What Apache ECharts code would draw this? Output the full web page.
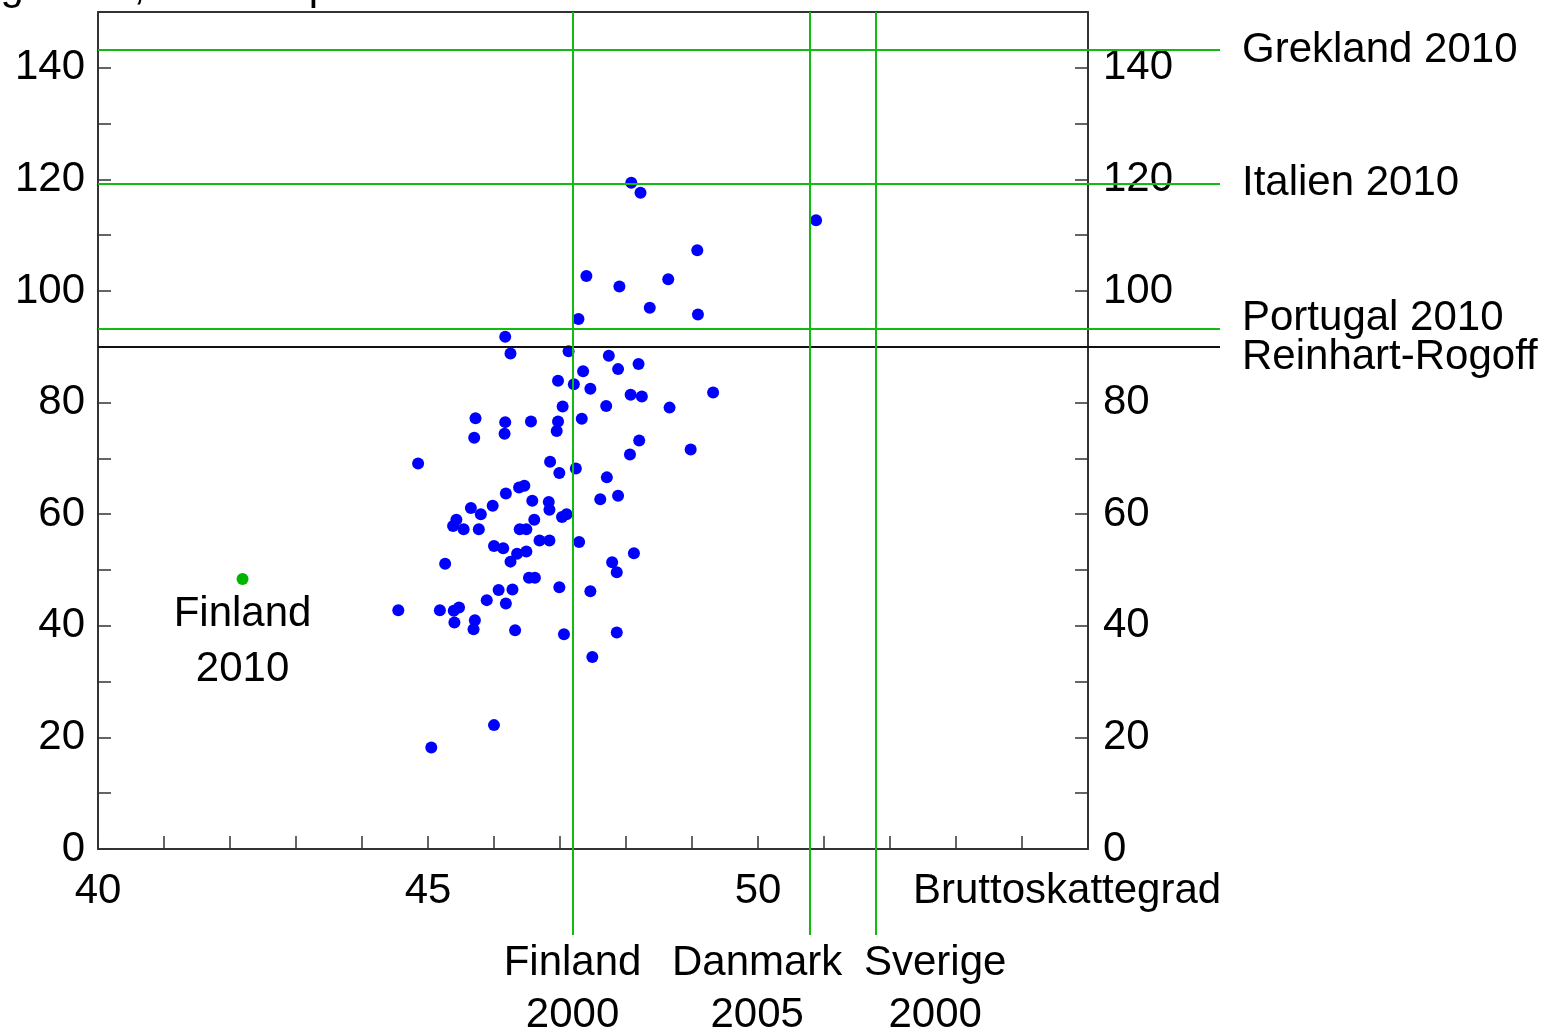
<!DOCTYPE html>
<html>
<head>
<meta charset="utf-8">
<script src="https://cdn.jsdelivr.net/npm/echarts@6/dist/echarts.min.js"></script>
<style>
    body { margin: 0; background: #fff; }
    #chart { width: 1548px; height: 1034px; }
</style>
</head>
<body>
<div id="chart"></div>
<script>
// bruttoskattegrad (x) och offentlig skuld (y) per land och år
const taxRate = [48.08, 48.22, 50.88, 49.08, 47.40, 47.90, 48.64, 48.36, 49.09, 47.28,
    46.17, 46.25, 47.13, 47.74, 48.19, 47.88, 47.35, 46.97, 47.21, 47.46,
    48.07, 48.24, 49.32, 48.66, 47.04, 47.70, 45.72, 46.17, 46.56, 46.97,
    47.33, 46.95, 45.70, 46.16, 48.20, 48.06, 48.98, 44.85, 46.85, 46.99,
    47.24, 47.71, 46.38, 46.46, 46.18, 46.58, 46.83, 46.84, 47.61, 47.88,
    45.98, 45.65, 45.80, 45.43, 46.61, 47.03, 47.10, 45.38, 45.54, 45.77,
    46.39, 46.49, 46.69, 46.84, 47.29, 46.00, 46.14, 46.35, 46.49, 46.25,
    45.26, 48.12, 47.79, 47.86, 46.53, 46.62, 46.99, 47.46, 46.07, 46.28,
    45.89, 46.18, 44.55, 45.18, 45.39, 45.47, 45.40, 45.71, 45.69, 46.32,
    47.06, 47.86, 47.49, 46.00, 45.05]
const debt = [119.4, 117.6, 112.7, 107.3, 102.7, 100.8, 102.1, 97.0, 95.8, 95.0,
    91.8, 88.8, 89.2, 88.4, 86.9, 86.0, 85.6, 83.9, 83.3, 82.5,
    81.4, 81.1, 81.8, 79.1, 79.3, 79.4, 77.2, 76.5, 76.6, 76.6,
    77.1, 74.9, 73.7, 74.4, 73.2, 70.7, 71.6, 69.1, 69.4, 67.4,
    68.2, 66.6, 64.8, 65.1, 63.7, 62.4, 62.2, 60.8, 62.7, 63.3,
    61.5, 61.1, 60.0, 59.0, 59.0, 59.5, 60.0, 57.9, 57.3, 57.3,
    57.3, 57.3, 55.3, 55.3, 55.0, 54.3, 53.9, 52.9, 53.3, 51.5,
    51.1, 53.0, 51.4, 49.6, 48.6, 48.6, 46.9, 46.2, 46.4, 46.5,
    44.6, 44.0, 42.8, 42.8, 42.7, 43.3, 40.6, 41.0, 39.4, 39.2,
    38.5, 38.8, 34.4, 22.2, 18.2]

const finland2010 = [42.19, 48.4]

// referenslinjer
const hLineNames = ['Grekland 2010', 'Italien 2010', 'Portugal 2010', 'Reinhart-Rogoff']
const hLineValues = [143.2, 119.2, 93.2, 90]
const vLineNames = ['Finland\n2000', 'Danmark\n2005', 'Sverige\n2000']
const vLineValues = [47.19, 50.79, 51.79]

const xTickLabels = [40, 45, 50]
const yTickLabels = [0, 20, 40, 60, 80, 100, 120, 140]

const FONT = "'Liberation Sans', Arial, sans-serif"
const GREEN = '#11bb11'
const AXIS = '#333'
const INK = '#000'

// label tweaks (pixels), kept apart from data
const hLabelOffset = { 'Portugal 2010': [0, -11], 'Reinhart-Rogoff': [0, 11] }
const vLabelOffset = { 'Danmark\n2005': [-53, 0], 'Sverige\n2000': [59, 0] }

const X_EXT = 57      // overlay grid reaches past the plot box
const Y_EXT = -15.4

let chart = echarts.init(document.getElementById('chart'))

let points = taxRate.map((x, i) => [x, debt[i]])

let anchors = []
hLineNames.forEach((n, i) => {
    anchors.push({
        value: [X_EXT, hLineValues[i]],
        label: { formatter: n, position: 'right', distance: 22, offset: hLabelOffset[n] || [0, 0] }
    })
})
vLineNames.forEach((n, i) => {
    anchors.push({
        value: [vLineValues[i], Y_EXT],
        label: { formatter: n, position: 'bottom', distance: 2, lineHeight: 52, align: 'center', offset: vLabelOffset[n] || [0, 0] }
    })
})

let lines = []
hLineNames.forEach((n, i) => {
    lines.push({ yAxis: hLineValues[i], lineStyle: { color: n === 'Reinhart-Rogoff' ? '#111' : GREEN } })
})
vLineValues.forEach(v => lines.push({ xAxis: v, lineStyle: { color: GREEN } }))

let tickAxis = {
    axisLine: { show: true, onZero: false, lineStyle: { color: AXIS, width: 2 } },
    axisTick: { show: true, inside: true, length: 13, lineStyle: { color: AXIS, width: 1.5 } },
    splitLine: { show: false }
}

chart.setOption({
    animation: false,
    textStyle: { fontFamily: FONT },
    grid: [
        { left: 98, top: 12, width: 990, height: 837 },
        { left: 98, top: 12, width: 1122, height: 923 }
    ],
    xAxis: [
        Object.assign({
            type: 'value', gridIndex: 0, position: 'bottom', min: 40, max: 55, interval: 1,
            axisLabel: {
                fontSize: 42, color: INK, margin: 21, fontFamily: FONT,
                formatter: v => xTickLabels.includes(v) ? String(v) : ''
            }
        }, tickAxis),
        {
            type: 'value', gridIndex: 0, position: 'top', min: 40, max: 55,
            axisLine: { show: true, onZero: false, lineStyle: { color: AXIS, width: 2 } },
            axisTick: { show: false }, axisLabel: { show: false }, splitLine: { show: false }
        },
        { type: 'value', gridIndex: 1, min: 40, max: X_EXT, show: false }
    ],
    yAxis: [
        Object.assign({
            type: 'value', gridIndex: 0, position: 'left', min: 0, max: 150, interval: 10,
            axisLabel: {
                fontSize: 42, color: INK, margin: 13, fontFamily: FONT,
                formatter: v => yTickLabels.includes(v) ? String(v) : ''
            }
        }, tickAxis),
        Object.assign({
            type: 'value', gridIndex: 0, position: 'right', min: 0, max: 150, interval: 10,
            axisLabel: {
                fontSize: 42, color: INK, margin: 15, fontFamily: FONT,
                formatter: v => yTickLabels.includes(v) ? String(v) : ''
            }
        }, tickAxis),
        { type: 'value', gridIndex: 1, min: Y_EXT, max: 150, show: false }
    ],
    graphic: [
        {
            type: 'text', x: 332, y: 8,
            style: { text: 'Offentlig skuld, % av bnp', fontSize: 42, fontFamily: FONT, fill: INK, align: 'right', verticalAlign: 'bottom' }
        },
        {
            type: 'text', x: 913, y: 891,
            style: { text: 'Bruttoskattegrad', fontSize: 42, fontFamily: FONT, fill: INK, align: 'left', verticalAlign: 'middle' }
        }
    ],
    series: [
        {
            name: 'referens',
            type: 'scatter',
            xAxisIndex: 2, yAxisIndex: 2,
            symbolSize: 0,
            silent: true,
            data: anchors,
            itemStyle: { opacity: 1 },
            label: { show: true, fontSize: 42, color: INK, fontFamily: FONT, opacity: 1 },
            markLine: {
                silent: true,
                symbol: 'none',
                label: { show: false },
                lineStyle: { type: 'solid', width: 2, opacity: 1 },
                data: lines
            },
            z: 1
        },
        {
            name: 'länder',
            type: 'scatter',
            xAxisIndex: 0, yAxisIndex: 0,
            symbolSize: 12,
            itemStyle: { color: '#0000ff', opacity: 1 },
            data: points,
            z: 3
        },
        {
            name: 'Finland 2010',
            type: 'scatter',
            xAxisIndex: 0, yAxisIndex: 0,
            symbolSize: 12,
            itemStyle: { color: '#00b400', opacity: 1 },
            data: [finland2010],
            label: {
                show: true, position: 'bottom', distance: 2, formatter: 'Finland\n2010',
                fontSize: 42, lineHeight: 55, color: INK, fontFamily: FONT, opacity: 1
            },
            z: 3
        }
    ]
})
</script>
</body>
</html>
